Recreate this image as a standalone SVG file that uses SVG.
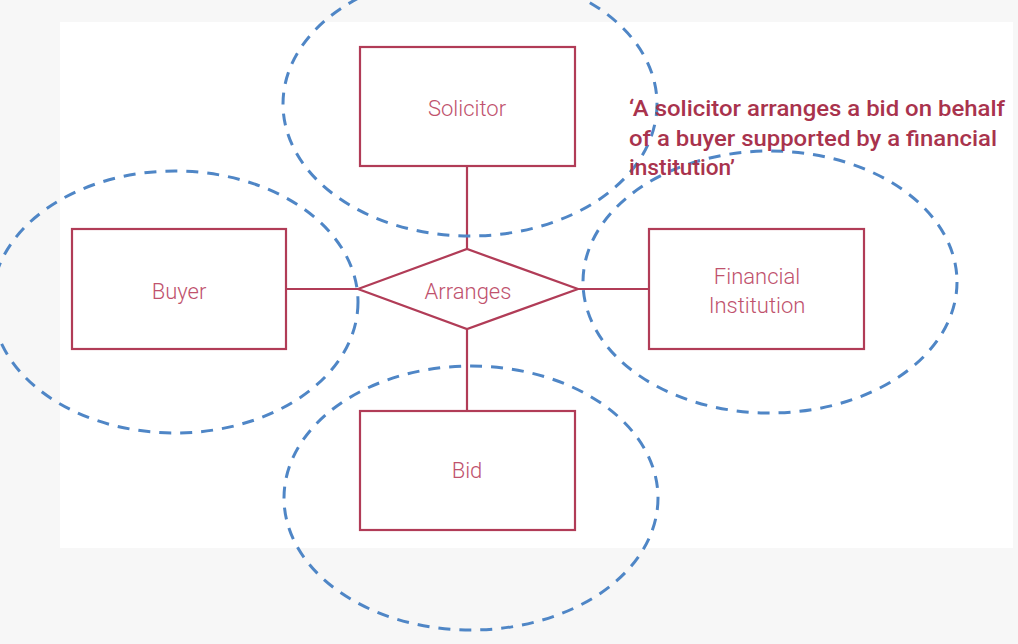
<svg xmlns="http://www.w3.org/2000/svg" width="1018" height="644" viewBox="0 0 1018 644">
<style>
.ent{fill:#ffffff;stroke:#b13c57;stroke-width:2.2}
.lbl{font-family:Roboto,"Liberation Sans",sans-serif;font-weight:300;font-size:22px;fill:#c0526d;text-anchor:middle}
.con{stroke:#b13c57;stroke-width:2.2;fill:none}
.ell{fill:none;stroke:#4f86c6;stroke-width:3;stroke-dasharray:12 9}
.quote{font-family:Roboto,"Liberation Sans",sans-serif;font-weight:500;font-size:22px;fill:#a9334d}
</style>
<rect x="0" y="0" width="1018" height="644" fill="#f7f7f7"/>
<rect x="60" y="22" width="953" height="526" fill="#ffffff"/>
<g id="connectors">
<line class="con" x1="467" y1="166" x2="467" y2="249"/>
<line class="con" x1="467" y1="329" x2="467" y2="411"/>
<line class="con" x1="286" y1="289" x2="358" y2="289"/>
<line class="con" x1="578" y1="289" x2="649" y2="289"/>
</g>
<g id="solicitor">
<rect class="ent" x="360" y="47" width="215" height="119"/>
<text class="lbl" x="467" y="116">Solicitor</text>
</g>
<g id="buyer">
<rect class="ent" x="72" y="229" width="214" height="120"/>
<text class="lbl" x="179" y="299">Buyer</text>
</g>
<g id="financial">
<rect class="ent" x="649" y="229" width="215" height="120"/>
<text class="lbl" x="757" y="284">Financial</text>
<text class="lbl" x="757" y="313">Institution</text>
</g>
<g id="bid">
<rect class="ent" x="360" y="411" width="215" height="119"/>
<text class="lbl" x="467" y="478">Bid</text>
</g>
<g id="arranges">
<polygon class="ent" points="358,289 467,249 578,289 467,329"/>
<text class="lbl" x="468" y="299">Arranges</text>
</g>
<g id="groupings">
<ellipse class="ell" cx="470" cy="104" rx="187" ry="132"/>
<ellipse class="ell" cx="175" cy="302" rx="183" ry="131"/>
<ellipse class="ell" cx="770" cy="282" rx="187" ry="131"/>
<ellipse class="ell" cx="471" cy="498" rx="187" ry="132"/>
</g>
<g id="note">
<text class="quote" x="629" y="116" textLength="376" lengthAdjust="spacingAndGlyphs">‘A solicitor arranges a bid on behalf</text>
<text class="quote" x="629" y="146" textLength="368" lengthAdjust="spacingAndGlyphs">of a buyer supported by a financial</text>
<text class="quote" x="629" y="175" textLength="106" lengthAdjust="spacingAndGlyphs">institution’</text>
</g>
</svg>
